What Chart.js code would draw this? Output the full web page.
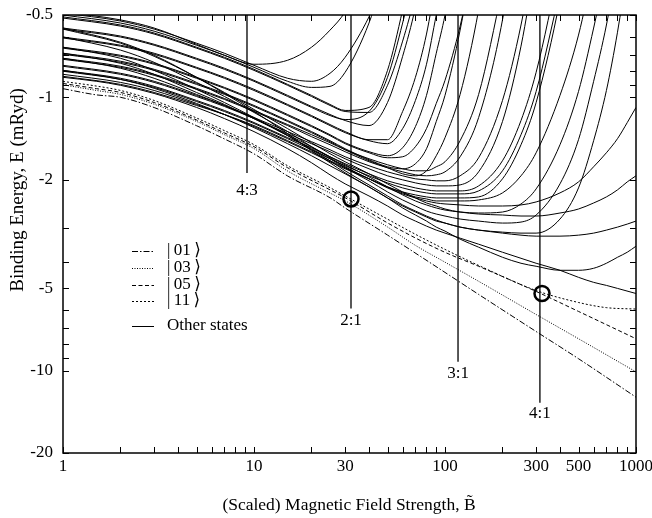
<!DOCTYPE html>
<html><head><meta charset="utf-8">
<script src="https://cdn.jsdelivr.net/npm/chart.js@4.4.1/dist/chart.umd.min.js"></script>
<style>html,body{margin:0;padding:0;background:#fff;}#wrap{width:652px;height:518px;}</style>
</head><body><div id="wrap"><canvas id="c" width="652" height="518"></canvas></div>
<script>
// ---- axis ticks ----
const xTickValues = [1,2,3,4,5,6,7,8,9,10,20,30,40,50,60,70,80,90,100,200,300,400,500,600,700,800,900,1000];
const xTickLabels = [1, 10, 30, 100, 300, 500, 1000];
const yTickValues = [0.5,0.6,0.7,0.8,0.9,1,2,3,4,5,6,7,8,9,10,20];
const yTickLabels = [-0.5, -1, -2, -5, -10, -20];

// ---- highlighted states [B, E(mRyd)] ----
const state01 = [[1,-0.93],[1.5,-0.98],[2,-1.0],[3,-1.09],[5,-1.27],[7,-1.42],[10,-1.61],[15,-1.94],[25,-2.33],[30,-2.54],[50,-3.19],[100,-4.37],[150,-5.26],[300,-7.19],[500,-9.04],[1000,-12.5]];
const state03 = [[1,-0.90],[1.5,-0.944],[2,-0.976],[3,-1.06],[5,-1.225],[7,-1.37],[10,-1.54],[15,-1.86],[25,-2.24],[30,-2.39],[50,-2.98],[70,-3.48],[100,-4.01],[150,-4.71],[300,-6.23],[500,-7.64],[1000,-10.1]];
const state05 = [[1,-0.89],[1.5,-0.93],[2,-0.96],[3,-1.045],[5,-1.21],[7,-1.35],[10,-1.515],[15,-1.81],[25,-2.18],[30,-2.33],[50,-2.88],[70,-3.27],[100,-3.69],[150,-4.15],[300,-5.13],[500,-6.07],[1000,-7.64]];
const state11 = [[1,-0.875],[1.5,-0.91],[2,-0.944],[3,-1.027],[5,-1.19],[7,-1.324],[10,-1.49],[15,-1.78],[25,-2.14],[30,-2.295],[50,-2.79],[70,-3.17],[100,-3.6],[150,-4.12],[300,-5.09],[500,-5.63],[700,-5.88],[1000,-5.95]];

// ---- other states [B, E(mRyd)] ----
const other01 = [[1,-0.487],[2,-0.521],[3,-0.558],[5,-0.640],[7,-0.702],[10,-0.757],[15,-0.732],[20,-0.656],[25,-0.568],[30,-0.487],[40,-0.327]];
const other02 = [[1,-0.492],[2,-0.526],[3,-0.563],[5,-0.634],[7,-0.690],[10,-0.764],[15,-0.852],[20,-0.874],[25,-0.817],[30,-0.714],[40,-0.508],[50,-0.353]];
const other03 = [[1,-0.5],[2,-0.535],[3,-0.573],[5,-0.645],[7,-0.702],[10,-0.777],[15,-0.874],[20,-0.920],[25,-0.912],[30,-0.810],[40,-0.535],[50,-0.327]];
const other04 = [[1,-0.508],[2,-0.544],[3,-0.582],[5,-0.656],[7,-0.714],[10,-0.790],[15,-0.897],[20,-0.984],[25,-1.062],[30,-1.117],[40,-1.089],[50,-0.797],[60,-0.479],[70,-0.286]];
const other05 = [[1,-0.513],[2,-0.549],[3,-0.587],[5,-0.661],[7,-0.720],[10,-0.797],[15,-0.904],[20,-0.993],[25,-1.071],[30,-1.127],[40,-1.136],[50,-0.904],[60,-0.623],[70,-0.419],[80,-0.27]];
const other06 = [[1,-0.558],[2,-0.597],[3,-0.640],[5,-0.720],[7,-0.783],[10,-0.867],[15,-0.984],[20,-1.080],[25,-1.156],[30,-1.216],[40,-1.269],[50,-1.045],[60,-0.708],[70,-0.468],[80,-0.281]];
const other07 = [[1,-0.563],[2,-0.602],[3,-0.645],[5,-0.726],[7,-0.790],[10,-0.874],[15,-0.993],[20,-1.089],[25,-1.166],[30,-1.206],[40,-1.127],[50,-0.845],[60,-0.535],[70,-0.339]];
const other08 = [[1,-0.602],[2,-0.645],[3,-0.690],[5,-0.777],[7,-0.845],[10,-0.935],[15,-1.062],[20,-1.166],[25,-1.258],[30,-1.335],[40,-1.429],[50,-1.429],[60,-1.127],[70,-0.845],[80,-0.587],[90,-0.372]];
const other09 = [[1,-0.607],[2,-0.650],[3,-0.696],[5,-0.783],[7,-0.852],[10,-0.944],[15,-1.071],[20,-1.176],[25,-1.269],[30,-1.347],[40,-1.441],[50,-1.478],[60,-1.302],[70,-1.027],[80,-0.757],[90,-0.5],[100,-0.35]];
const other10 = [[1,-0.656],[2,-0.702],[3,-0.751],[5,-0.845],[7,-0.920],[10,-1.018],[15,-1.156],[20,-1.269],[25,-1.370],[30,-1.466],[40,-1.581],[50,-1.636],[60,-1.529],[70,-1.280],[80,-0.984],[90,-0.690],[100,-0.5],[120,-0.239]];
const other11 = [[1,-0.661],[2,-0.708],[3,-0.757],[5,-0.852],[7,-0.927],[10,-1.027],[15,-1.166],[20,-1.280],[25,-1.381],[30,-1.478],[40,-1.595],[50,-1.664],[60,-1.650],[70,-1.516],[80,-1.302],[90,-1.053],[100,-0.867],[120,-0.549],[150,-0.261]];
const other12 = [[1,-0.690],[2,-0.738],[3,-0.790],[5,-0.889],[7,-0.968],[10,-1.071],[15,-1.216],[20,-1.335],[25,-1.441],[30,-1.542],[40,-1.692],[50,-1.795],[60,-1.826],[70,-1.750],[80,-1.542],[90,-1.226],[100,-0.984],[120,-0.568],[150,-0.236]];
const other13 = [[1,-0.696],[2,-0.745],[3,-0.797],[5,-0.897],[7,-0.976],[10,-1.080],[15,-1.226],[20,-1.347],[25,-1.453],[30,-1.555],[40,-1.706],[50,-1.810],[60,-1.905],[70,-1.937],[80,-1.857],[90,-1.636],[100,-1.405],[120,-0.976],[150,-0.479],[200,-0.135]];
const other14 = [[1,-0.720],[2,-0.770],[3,-0.824],[5,-0.927],[7,-1.010],[10,-1.117],[15,-1.258],[20,-1.370],[25,-1.466],[30,-1.555],[40,-1.678],[50,-1.765],[60,-1.826],[70,-1.857],[80,-1.857],[90,-1.795],[100,-1.721],[120,-1.441],[150,-0.976],[200,-0.401]];
const other15 = [[1,-0.726],[2,-0.777],[3,-0.831],[5,-0.935],[7,-1.018],[10,-1.127],[15,-1.269],[20,-1.393],[25,-1.491],[30,-1.581],[40,-1.721],[50,-1.810],[60,-1.873],[70,-1.921],[80,-1.937],[90,-1.921],[100,-1.873],[120,-1.650],[150,-1.186],[200,-0.521],[250,-0.19]];
const other16 = [[1,-0.764],[2,-0.817],[3,-0.874],[5,-0.984],[7,-1.071],[10,-1.186],[15,-1.335],[20,-1.453],[25,-1.555],[30,-1.650],[40,-1.780],[50,-1.873],[60,-1.937],[70,-1.987],[80,-2.004],[90,-2.021],[100,-2.021],[120,-1.937],[150,-1.664],[200,-1.027],[250,-0.544],[300,-0.27]];
const other17 = [[1,-0.770],[2,-0.824],[3,-0.882],[5,-0.993],[7,-1.080],[10,-1.196],[15,-1.358],[20,-1.478],[25,-1.581],[30,-1.678],[40,-1.826],[50,-1.937],[60,-2.004],[70,-2.056],[80,-2.091],[90,-2.109],[100,-2.109],[120,-2.091],[150,-1.873],[200,-1.226],[250,-0.650],[300,-0.314]];
const other18 = [[1,-0.797],[2,-0.852],[3,-0.912],[5,-1.027],[7,-1.117],[10,-1.237],[15,-1.405],[20,-1.529],[25,-1.650],[30,-1.750],[40,-1.905],[50,-2.021],[60,-2.091],[70,-2.145],[80,-2.181],[90,-2.200],[100,-2.200],[120,-2.200],[150,-2.109],[200,-1.706],[250,-1.216],[300,-0.810],[400,-0.327]];
const other19 = [[1,-0.803],[2,-0.860],[3,-0.920],[5,-1.036],[7,-1.127],[10,-1.247],[15,-1.417],[20,-1.555],[25,-1.678],[30,-1.780],[40,-1.937],[50,-2.056],[60,-2.145],[70,-2.200],[80,-2.237],[90,-2.256],[100,-2.256],[120,-2.256],[150,-2.200],[200,-1.857],[250,-1.370],[300,-0.952],[400,-0.408]];
const other20 = [[1,-0.824],[2,-0.882],[3,-0.944],[5,-1.062],[7,-1.156],[10,-1.280],[15,-1.453],[20,-1.595],[25,-1.721],[30,-1.826],[40,-1.987],[50,-2.127],[60,-2.219],[70,-2.275],[80,-2.314],[90,-2.334],[100,-2.334],[120,-2.334],[150,-2.314],[200,-1.987],[250,-1.491],[300,-1.045],[400,-0.440],[500,-0.178]];
const other21 = [[1,-0.838],[2,-0.897],[3,-0.960],[5,-1.071],[7,-1.156],[10,-1.269],[15,-1.441],[20,-1.581],[25,-1.706],[30,-1.810],[40,-1.987],[50,-2.127],[60,-2.237],[70,-2.314],[80,-2.354],[90,-2.394],[100,-2.394],[120,-2.394],[150,-2.374],[200,-2.237],[250,-1.937],[300,-1.595],[400,-0.984],[500,-0.592],[600,-0.333]];
const other22 = [[1,-0.720],[2,-0.783],[3,-0.852],[5,-0.976],[7,-1.071],[10,-1.196],[15,-1.370],[20,-1.516],[25,-1.650],[30,-1.765],[40,-1.954],[50,-2.127],[60,-2.275],[70,-2.394],[80,-2.476],[90,-2.540],[100,-2.584],[120,-2.628],[150,-2.650],[200,-2.628],[250,-2.455],[300,-2.163],[400,-1.491],[500,-0.952],[600,-0.558],[700,-0.337]];
const other23 = [[1,-0.690],[2,-0.751],[3,-0.824],[5,-0.960],[7,-1.062],[10,-1.196],[15,-1.381],[20,-1.542],[25,-1.678],[30,-1.810],[40,-2.021],[50,-2.219],[60,-2.374],[70,-2.498],[80,-2.606],[90,-2.673],[100,-2.718],[120,-2.788],[150,-2.836],[200,-2.884],[250,-2.860],[300,-2.695],[400,-2.073],[500,-1.429],[600,-0.874],[700,-0.544],[800,-0.324]];
const other24 = [[1,-0.656],[2,-0.720],[3,-0.797],[5,-0.935],[7,-1.045],[10,-1.186],[15,-1.381],[20,-1.555],[25,-1.706],[30,-1.857],[40,-2.091],[50,-2.295],[60,-2.476],[70,-2.606],[80,-2.718],[90,-2.812],[100,-2.884],[120,-2.984],[150,-3.060],[200,-3.113],[250,-3.139],[300,-3.139],[400,-2.788],[500,-2.145],[600,-1.441],[700,-0.944],[800,-0.578],[900,-0.342]];
const other25 = [[1,-0.602],[2,-0.672],[3,-0.745],[5,-0.882],[7,-0.993],[10,-1.136],[15,-1.335],[20,-1.516],[25,-1.664],[30,-1.795],[40,-1.987],[50,-2.145],[60,-2.256],[70,-2.334],[80,-2.394],[90,-2.435],[100,-2.455],[120,-2.476],[150,-2.498],[200,-2.498],[250,-2.476],[300,-2.414],[400,-2.237],[500,-2.039],[600,-1.795],[700,-1.595],[800,-1.417],[900,-1.237],[1000,-1.089]];
const other26 = [[1,-0.558],[2,-0.629],[3,-0.702],[5,-0.845],[7,-0.968],[10,-1.127],[15,-1.358],[20,-1.568],[25,-1.735],[30,-1.889],[40,-2.127],[50,-2.334],[60,-2.498],[70,-2.628],[80,-2.741],[90,-2.836],[100,-2.884],[120,-2.984],[150,-3.060],[200,-3.139],[250,-3.193],[300,-3.220],[400,-3.220],[500,-3.193],[600,-3.139],[700,-3.060],[800,-2.984],[900,-2.909],[1000,-2.836]];
const other27 = [[1,-0.563],[2,-0.634],[3,-0.708],[5,-0.845],[7,-0.960],[10,-1.108],[15,-1.302],[20,-1.466],[25,-1.608],[30,-1.721],[40,-1.905],[50,-2.073],[60,-2.219],[70,-2.334],[80,-2.435],[90,-2.498],[100,-2.562],[120,-2.628],[150,-2.673],[200,-2.695],[250,-2.718],[300,-2.718],[400,-2.650],[500,-2.562],[600,-2.435],[700,-2.314],[800,-2.181],[900,-2.039],[1000,-1.937]];
const other28 = [[1,-0.797],[2,-0.860],[3,-0.927],[5,-1.053],[7,-1.156],[10,-1.291],[15,-1.478],[20,-1.636],[25,-1.780],[30,-1.905],[40,-2.127],[50,-2.334],[60,-2.540],[70,-2.695],[80,-2.836],[90,-2.984],[100,-3.086],[120,-3.303],[150,-3.534],[200,-3.847],[250,-4.046],[300,-4.150],[400,-4.293],[500,-4.293],[600,-4.221],[700,-4.046],[800,-3.847],[900,-3.687],[1000,-3.504]];
const other29 = [[1,-0.845],[1.5,-0.874],[2,-0.904],[3,-0.968],[5,-1.089],[7,-1.196],[10,-1.335],[15,-1.542],[20,-1.735],[25,-1.921],[30,-2.073],[40,-2.295],[50,-2.498],[60,-2.695],[70,-2.836],[80,-2.959],[90,-3.060],[100,-3.139],[120,-3.275],[150,-3.446],[200,-3.687],[250,-3.880],[300,-4.046],[400,-4.293],[500,-4.555],[600,-4.752],[700,-4.875],[800,-5.0],[1000,-5.22]];
const otherStates = [other01,other02,other03,other04,other05,other06,other07,other08,other09,other10,other11,other12,other13,other14,other15,other16,other17,other18,other19,other20,other21,other22,other23,other24,other25,other26,other27,other28,other29];

// ---- resonance markers ----
const resonanceLabels = ['4:3', '2:1', '3:1', '4:1'];
const resonanceB = [9.19, 32.2, 117, 314];
const resonanceEndE = [-1.89, -5.92, -9.28, -13.1];
const resonanceLabelE = [-2.2, -6.56, -10.27, -14.3];
const circleB = [32.2, 322];
const circleE = [-2.354, -5.22];
const yTopE = -0.5;

const FONT = '"Liberation Serif", "DejaVu Serif", serif';
Chart.defaults.font.family = FONT;
Chart.defaults.font.size = 17;
Chart.defaults.color = '#000';

const toPts = arr => arr.map(([b, e]) => ({x: b, y: -e}));
const datasets = [];
otherStates.forEach(s => datasets.push({data: toPts(s), borderColor: '#000', borderWidth: 1, pointRadius: 0, fill: false, cubicInterpolationMode: 'monotone'}));
const dashed = [
  {d: state11, dash: [2, 2]},
  {d: state05, dash: [4, 2.5]},
  {d: state03, dash: [1, 1.5]},
  {d: state01, dash: [6, 2, 1.5, 2]}
];
dashed.forEach(o => datasets.push({data: toPts(o.d), borderColor: '#000', borderWidth: 1, borderDash: o.dash, pointRadius: 0, fill: false, cubicInterpolationMode: 'monotone'}));
resonanceB.forEach((b, i) => datasets.push({data: [{x: b, y: -yTopE}, {x: b, y: -resonanceEndE[i]}], borderColor: '#000', borderWidth: 1.3, pointRadius: 0, tension: 0}));
datasets.push({data: circleB.map((b, i) => ({x: b, y: -circleE[i]})), showLine: false, pointRadius: 7.5, pointHoverRadius: 7.5, pointBorderWidth: 2.5, pointBorderColor: '#000', pointBackgroundColor: 'rgba(0,0,0,0)'});

const legendItems = [
  {label: '|\u200901\u2009\u27E9', dash: [6, 2, 1.5, 2]},
  {label: '|\u200903\u2009\u27E9', dash: [1, 1.5]},
  {label: '|\u200905\u2009\u27E9', dash: [4, 2.5]},
  {label: '|\u200911\u2009\u27E9', dash: [2, 2]},
  {label: 'Other states', dash: []}
];
const legendRowY = [251, 268, 285, 301, 326];

const decor = {
  id: 'decor',
  afterDatasetsDraw(chart) {
    const {ctx, chartArea: a, scales: {x, y}} = chart;
    ctx.save();
    ctx.strokeStyle = '#000';
    ctx.lineWidth = 1.5;
    ctx.strokeRect(a.left, a.top, a.right - a.left, a.bottom - a.top);
    ctx.lineWidth = 1;
    ctx.beginPath();
    x.ticks.forEach(t => {
      const px = Math.round(x.getPixelForValue(t.value)) + 0.5;
      ctx.moveTo(px, a.bottom); ctx.lineTo(px, a.bottom - 6);
      ctx.moveTo(px, a.top); ctx.lineTo(px, a.top + 6);
    });
    y.ticks.forEach(t => {
      const py = Math.round(y.getPixelForValue(t.value)) + 0.5;
      ctx.moveTo(a.left, py); ctx.lineTo(a.left + 6, py);
      ctx.moveTo(a.right, py); ctx.lineTo(a.right - 6, py);
    });
    ctx.stroke();

    ctx.fillStyle = '#000';
    ctx.font = '17px ' + FONT;
    ctx.textAlign = 'center';
    ctx.textBaseline = 'middle';
    resonanceLabels.forEach((l, i) => {
      ctx.fillText(l, x.getPixelForValue(resonanceB[i]), y.getPixelForValue(-resonanceLabelE[i]));
    });

    ctx.textAlign = 'left';
    legendItems.forEach((it, i) => {
      const ly = legendRowY[i] + 0.5;
      ctx.setLineDash(it.dash);
      ctx.lineWidth = 1;
      ctx.beginPath(); ctx.moveTo(132, ly); ctx.lineTo(154, ly); ctx.stroke();
      ctx.setLineDash([]);
      ctx.fillText(it.label, 167, legendRowY[i]);
    });

    ctx.textAlign = 'center';
    ctx.font = '17.5px ' + FONT;
    ctx.fillText('(Scaled) Magnetic Field Strength, B\u0303', 349, 505);
    ctx.save();
    ctx.font = '19px ' + FONT;
    ctx.translate(18, 190);
    ctx.rotate(-Math.PI / 2);
    ctx.fillText('Binding Energy, E (mRyd)', 0, 0);
    ctx.restore();
    ctx.restore();
  }
};

new Chart(document.getElementById('c'), {
  type: 'line',
  data: {datasets},
  options: {
    responsive: false,
    animation: false,
    events: [],
    layout: {padding: {top: 15, right: 16, left: 0, bottom: 0}},
    plugins: {legend: {display: false}, tooltip: {enabled: false}},
    scales: {
      x: {
        type: 'logarithmic', min: 1, max: 1000,
        grid: {display: false, drawTicks: false}, border: {display: false},
        ticks: {autoSkip: false, maxRotation: 0, padding: 3,
          callback: v => xTickLabels.includes(v) ? String(v) : ''},
        afterBuildTicks: s => { s.ticks = xTickValues.map(v => ({value: v})); },
        afterFit: s => { s.height = 65; s.paddingLeft = 0; s.paddingRight = 0; }
      },
      y: {
        type: 'logarithmic', min: 0.5, max: 20, reverse: true,
        grid: {display: false, drawTicks: false}, border: {display: false},
        ticks: {autoSkip: false, padding: 10,
          callback: v => yTickLabels.includes(-v) ? String(-v) : ''},
        afterBuildTicks: s => { s.ticks = yTickValues.map(v => ({value: v})); },
        afterFit: s => { s.width = 63; s.paddingTop = 0; s.paddingBottom = 0; }
      }
    }
  },
  plugins: [decor]
});
</script></body></html>
